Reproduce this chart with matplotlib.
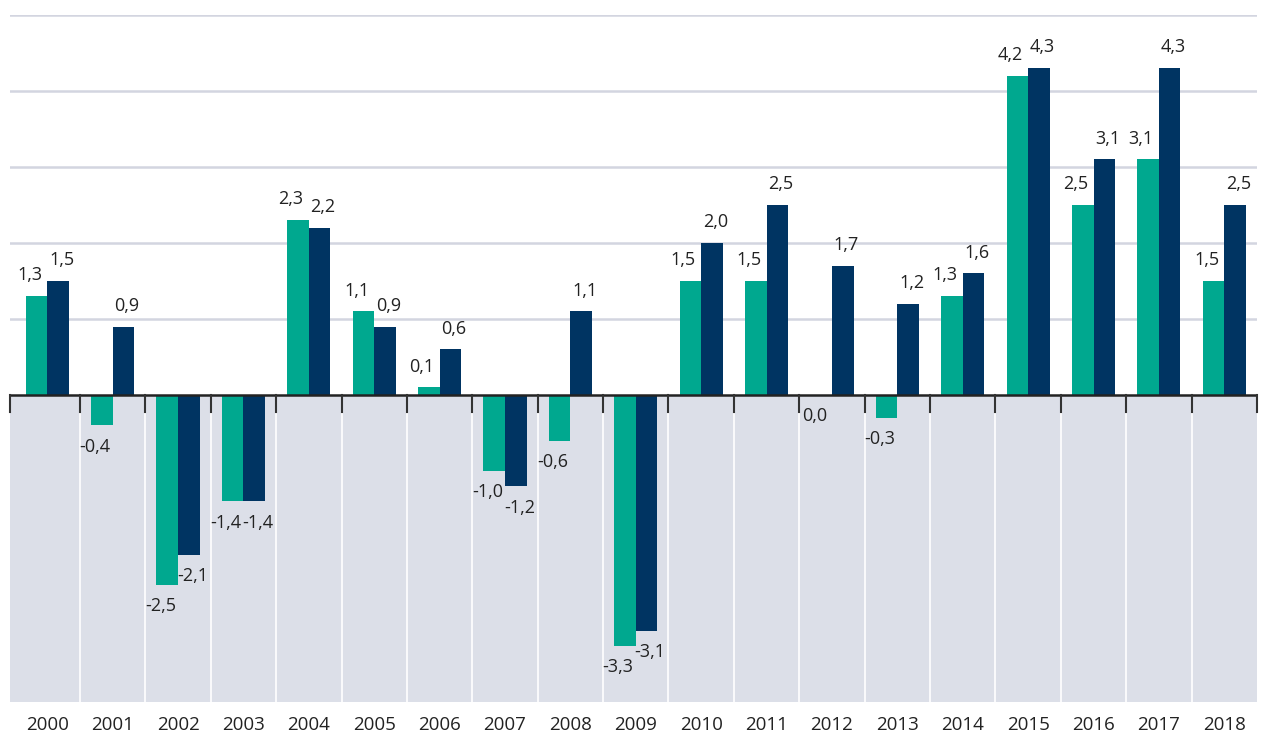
import numpy as np
import matplotlib.pyplot as plt

plt.rcParams['font.family'] = ['Open Sans', 'DejaVu Sans']

# Daten
years = [str(y) for y in range(2000, 2019)]
teal_vals = [1.3, -0.4, -2.5, -1.4, 2.3, 1.1, 0.1, -1.0, -0.6, -3.3,
             1.5, 1.5, 0.0, -0.3, 1.3, 4.2, 2.5, 3.1, 1.5]
navy_vals = [1.5, 0.9, -2.1, -1.4, 2.2, 0.9, 0.6, -1.2, 1.1, -3.1,
             2.0, 2.5, 1.7, 1.2, 1.6, 4.3, 3.1, 4.3, 2.5]

teal = '#00a88f'
navy = '#003462'
shade = '#dcdfe8'
grid_col = '#d3d5e0'

fig = plt.figure(figsize=(12.68, 7.33), dpi=100)
ax = fig.add_axes([10 / 1268, 31 / 733, 1247 / 1268, 687 / 733])

n = len(years)
x = np.arange(n)
w = 0.33
x0 = -0.57  # erste Kategorie etwas breiter

ax.set_xlim(x0, n - 0.5)
ax.set_ylim(-4.04, 5)

# grauer Bereich unter Null
ax.axhspan(-4.04, 0, color=shade, zorder=0, lw=0)
for b in np.arange(0.5, n - 0.5, 1):
    ax.plot([b, b], [-4.04, 0], color='white', lw=1.2, zorder=1)

# Gitterlinien
for g in range(1, 6):
    ax.axhline(g, color=grid_col, lw=1.8, zorder=1)

ax.bar(x - w / 2, teal_vals, width=w, color=teal, zorder=3)
ax.bar(x + w / 2, navy_vals, width=w, color=navy, zorder=3)

ax.axhline(0, color='#222222', lw=1.8, zorder=4)

# Werte
def fmt(v):
    return f"{v:.1f}".replace('.', ',')

for i in range(n):
    for v, xo, dx in ((teal_vals[i], x[i] - w / 2, -5), (navy_vals[i], x[i] + w / 2, 2.5)):
        if v > 0:
            ax.annotate(fmt(v), (xo, v), xytext=(dx, 8.5), textcoords='offset points',
                        ha='center', va='bottom', fontsize=13, color='#222222', zorder=5)
        else:
            ax.annotate(fmt(v), (xo, v), xytext=(dx, -9), textcoords='offset points',
                        ha='center', va='top', fontsize=13, color='#222222', zorder=5)

# Achsen
ax.set_xticks(x)
ax.set_xticklabels(years, fontsize=13.5, color='#222222')
ax.tick_params(axis='x', length=0, pad=10)
ax.set_yticks([])
for b in [x0] + list(np.arange(0.5, n, 1)):
    ax.plot([b, b], [0, -0.22], color='#333333', lw=1.5, zorder=4, clip_on=False)
for s in ax.spines.values():
    s.set_visible(False)

fig.savefig('out.png', dpi=100)
